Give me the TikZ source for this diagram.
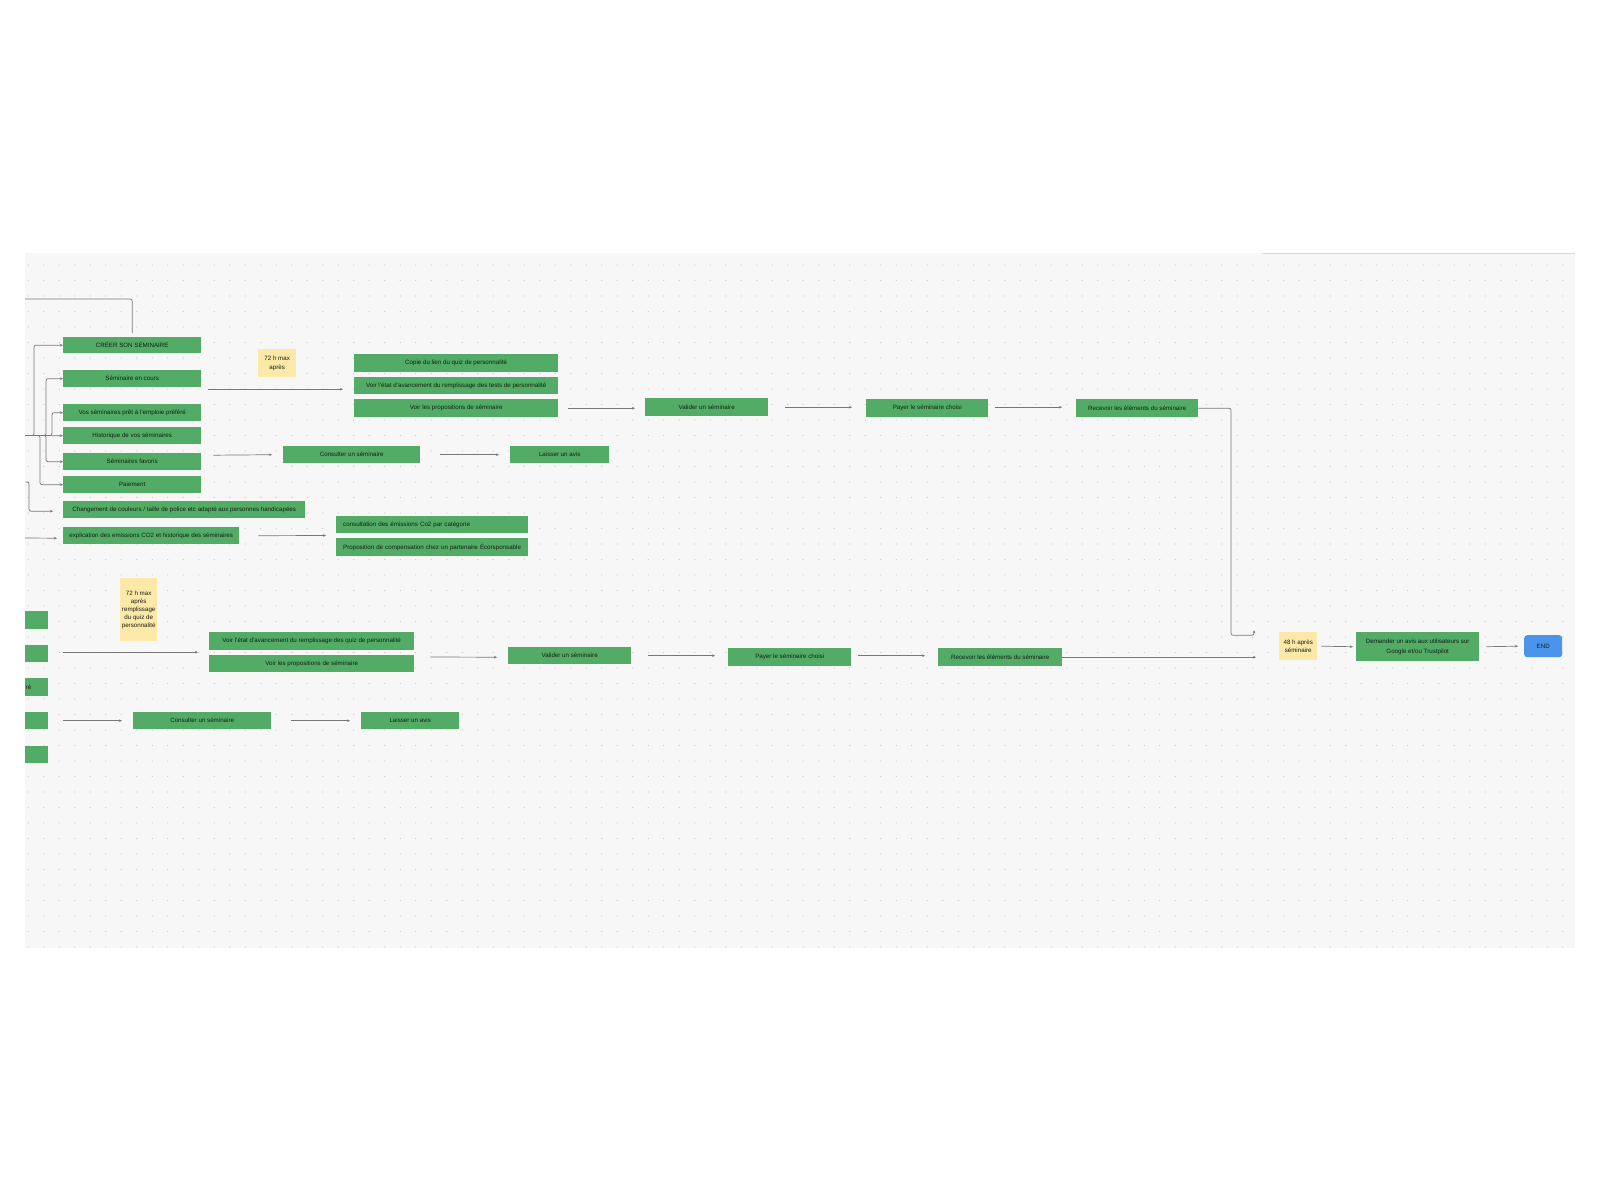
\documentclass[tikz,border=0pt]{standalone}
\usepackage{fontspec}
\setmainfont{Liberation Sans}
\usetikzlibrary{arrows.meta,calc}
\definecolor{gfill}{RGB}{82,172,101}
\definecolor{yfill}{RGB}{252,233,168}
\definecolor{bfill}{RGB}{74,148,235}
\definecolor{canvasc}{RGB}{247,247,247}
\definecolor{dotc}{RGB}{200,200,200}
\definecolor{linec}{RGB}{120,120,120}
\definecolor{txt}{RGB}{20,30,22}
\begin{document}
\begin{tikzpicture}[x=1pt,y=-1pt,
  box/.style={anchor=north west, inner sep=0pt, font=\fontsize{6.2}{8.6}\selectfont, text=txt, align=center},
  gbox/.style={box, fill=gfill},
  ybox/.style={box, fill=yfill},
  conn/.style={draw=linec, line width=0.7pt, -{Stealth[length=3pt,width=2.6pt]}, rounded corners=2pt},
  plainline/.style={draw=linec, line width=0.7pt, rounded corners=2pt}]
\useasboundingbox (0,0) rectangle (1600,1200);
\fill[white] (0,0) rectangle (1600,1200);
% canvas with dot grid
\begin{scope}
\clip (25,253) rectangle (1575,948);
\fill[canvasc] (25,253) rectangle (1575,948);
\foreach \i in {0,...,99}{\foreach \j in {0,...,44}{\fill[dotc] ({28.3+15.5*\i},{265+15.5*\j}) circle (0.65pt);}}
\end{scope}
\draw[gray!30, line width=1pt] (1262,253) -- (1575,253);

% ---------- top section ----------
\node[gbox, minimum width=138pt, minimum height=16pt] (creer) at (63,337) {CRÉER SON SÉMINAIRE};
\node[gbox, minimum width=138pt, minimum height=17pt] (encours) at (63,370) {Séminaire en cours};
\node[gbox, minimum width=138pt, minimum height=17pt] (vos) at (63,404) {Vos séminaires prêt à l'emploie préféré};
\node[gbox, minimum width=138pt, minimum height=17pt] (histo) at (63,427) {Historique de vos séminaires};
\node[gbox, minimum width=138pt, minimum height=17pt] (favoris) at (63,453) {Séminaires favoris};
\node[gbox, minimum width=138pt, minimum height=17pt] (paiement) at (63,476) {Paiement};
\node[gbox, minimum width=242pt, minimum height=17pt] (changement) at (63,501) {Changement de couleurs / taille de police etc adapté aux personnes handicapées};
\node[gbox, minimum width=176pt, minimum height=17pt] (explication) at (63,527) {explication des emissions CO2 et historique des séminaires};
\node[ybox, minimum width=38pt, minimum height=28pt] (notea) at (258,349) {72 h max\\après};
\node[gbox, minimum width=204pt, minimum height=18pt] (copie) at (354,354) {Copie du lien du quiz de personnalité};
\node[gbox, minimum width=204pt, minimum height=17pt] (voiretat) at (354,377) {Voir l'état d'avancement du remplissage des tests de personnalité};
\node[gbox, minimum width=204pt, minimum height=18pt] (voirprop) at (354,399) {Voir les propositions de séminaire};
\node[gbox, minimum width=137pt, minimum height=17pt] (consulter) at (283,446) {Consulter un séminaire};
\node[gbox, minimum width=99pt, minimum height=17pt] (laisser) at (510,446) {Laisser un avis};
\node[gbox, minimum width=192pt, minimum height=17pt, text width=178pt, align=left, inner xsep=7pt] (co2cat) at (336,516) {consultation des émissions Co2 par catégorie};
\node[gbox, minimum width=192pt, minimum height=18pt, text width=178pt, align=left, inner xsep=7pt] (compens) at (336,538) {Proposition de compensation chez un partenaire Écorsponsable};
\node[gbox, minimum width=123pt, minimum height=18pt] (valider1) at (645,398) {Valider un séminaire};
\node[gbox, minimum width=122pt, minimum height=18pt] (payer1) at (866,399) {Payer le séminaire choisi};
\node[gbox, minimum width=122pt, minimum height=18pt] (recevoir1) at (1076,399) {Recevoir les éléments du séminaire};

% ---------- bottom section ----------
\node[gbox, minimum width=23pt, minimum height=18pt] (l1) at (25,611) {};
\node[gbox, minimum width=23pt, minimum height=17pt] (l2) at (25,645) {};
\node[gbox, minimum width=23pt, minimum height=18pt, text width=22pt, align=left, inner xsep=0.5pt] (l3) at (25,678) {ré};
\node[gbox, minimum width=23pt, minimum height=17pt] (l4) at (25,712) {};
\node[gbox, minimum width=23pt, minimum height=17pt] (l5) at (25,746) {};
\node[ybox, minimum width=37pt, minimum height=63pt, font=\fontsize{6.2}{8}\selectfont] (noteb) at (120,578) {72 h max\\après\\remplissage\\du quiz de\\personnalité};
\node[gbox, minimum width=205pt, minimum height=18pt] (voiretat2) at (209,632) {Voir l'état d'avancement du remplissage des quiz de personnalité};
\node[gbox, minimum width=205pt, minimum height=17pt] (voirprop2) at (209,655) {Voir les propositions de séminaire};
\node[gbox, minimum width=138pt, minimum height=17pt] (consulter2) at (133,712) {Consulter un séminaire};
\node[gbox, minimum width=98pt, minimum height=17pt] (laisser2) at (361,712) {Laisser un avis};
\node[gbox, minimum width=123pt, minimum height=17pt] (valider2) at (508,647) {Valider un séminaire};
\node[gbox, minimum width=123pt, minimum height=18pt] (payer2) at (728,648) {Payer le séminaire choisi};
\node[gbox, minimum width=124pt, minimum height=18pt] (recevoir2) at (938,648) {Recevoir les éléments du séminaire};
\node[ybox, minimum width=38pt, minimum height=28pt] (note48) at (1279,632) {48 h après\\séminaire};
\node[gbox, minimum width=123pt, minimum height=29pt, font=\fontsize{6.2}{9.7}\selectfont] (demander) at (1356,632) {Demander un avis aux utilisateurs sur\\Google et/ou Trustpilot};
\node[box, fill=bfill, rounded corners=3pt, minimum width=38pt, minimum height=22pt] (end) at (1524,635) {END};

% ---------- connectors, top section ----------
\coordinate (topin) at (25,299);
\coordinate (trunk) at (25,435.5);
\coordinate (chin) at (25,482);
\coordinate (exin) at (25,538);
\draw[plainline] (topin) -| ([yshift=4pt]creer.north);
\draw[conn] (trunk) -- (histo.west);
\draw[conn] (trunk) -| ([xshift=-29pt]creer.west) -- (creer.west);
\draw[conn] (trunk) -| ([xshift=-17pt]encours.west) -- (encours.west);
\draw[conn] (trunk) -| ([xshift=-11pt]vos.west) -- (vos.west);
\draw[conn] (trunk) -| ([xshift=-17pt]favoris.west) -- (favoris.west);
\draw[conn] (trunk) -| ([xshift=-23pt]paiement.west) -- (paiement.west);
\draw[conn] (chin) -| ([xshift=-34pt,yshift=-1.5pt]changement.west) -- ([xshift=-10pt,yshift=-1.5pt]changement.west);
\draw[conn] (exin) -- ([xshift=-6pt,yshift=-2.5pt]explication.west);
\draw[conn] ([xshift=7pt,yshift=-10.5pt]encours.east) -- ([xshift=-11pt,yshift=-3.5pt]voiretat.west);
\draw[conn] ([xshift=12pt,yshift=6.5pt]favoris.east) -- ([xshift=-11pt]consulter.west);
\draw[conn] ([xshift=20pt]consulter.east) -- ([xshift=-11pt]laisser.west);
\draw[conn] ([xshift=19pt]explication.east) -- ([xshift=-10pt,yshift=2.5pt]compens.north west);
\draw[conn] ([xshift=10pt]voirprop.east) -- ([xshift=-10pt,yshift=-1pt]valider1.west);
\draw[conn] ([xshift=17pt]valider1.east) -- ([xshift=-14pt,yshift=1pt]payer1.west);
\draw[conn] ([xshift=7pt,yshift=1pt]payer1.east) -- ([xshift=-14pt,yshift=1pt]recevoir1.west);
\draw[conn] (recevoir1.east) -| ([xshift=-48pt,yshift=11pt]note48.west) -| ([xshift=-25pt,yshift=16pt]note48.west);

% ---------- connectors, bottom section ----------
\draw[conn] ([xshift=15pt,yshift=1.5pt]l2.east) -- ([xshift=-11pt,yshift=-11pt]voiretat2.west);
\draw[conn] ([xshift=15pt]l4.east) -- ([xshift=-11pt]consulter2.west);
\draw[conn] ([xshift=20pt]consulter2.east) -- ([xshift=-11pt]laisser2.west);
\draw[conn] ([xshift=16pt,yshift=-2pt]voirprop2.north east) -- ([xshift=-11pt,yshift=-1.5pt]valider2.west);
\draw[conn] ([xshift=17pt]valider2.east) -- ([xshift=-13pt,yshift=1.5pt]payer2.west);
\draw[conn] ([xshift=7pt,yshift=1.5pt]payer2.east) -- ([xshift=-13pt,yshift=1.5pt]recevoir2.west);
\draw[conn] (recevoir2.east) -- ([xshift=-23pt,yshift=-11pt]note48.west);
\draw[conn] ([xshift=4pt]note48.east) -- ([xshift=-3pt]demander.west);
\draw[conn] ([xshift=7pt]demander.east) -- ([xshift=-6pt]end.west);
\end{tikzpicture}
\end{document}
